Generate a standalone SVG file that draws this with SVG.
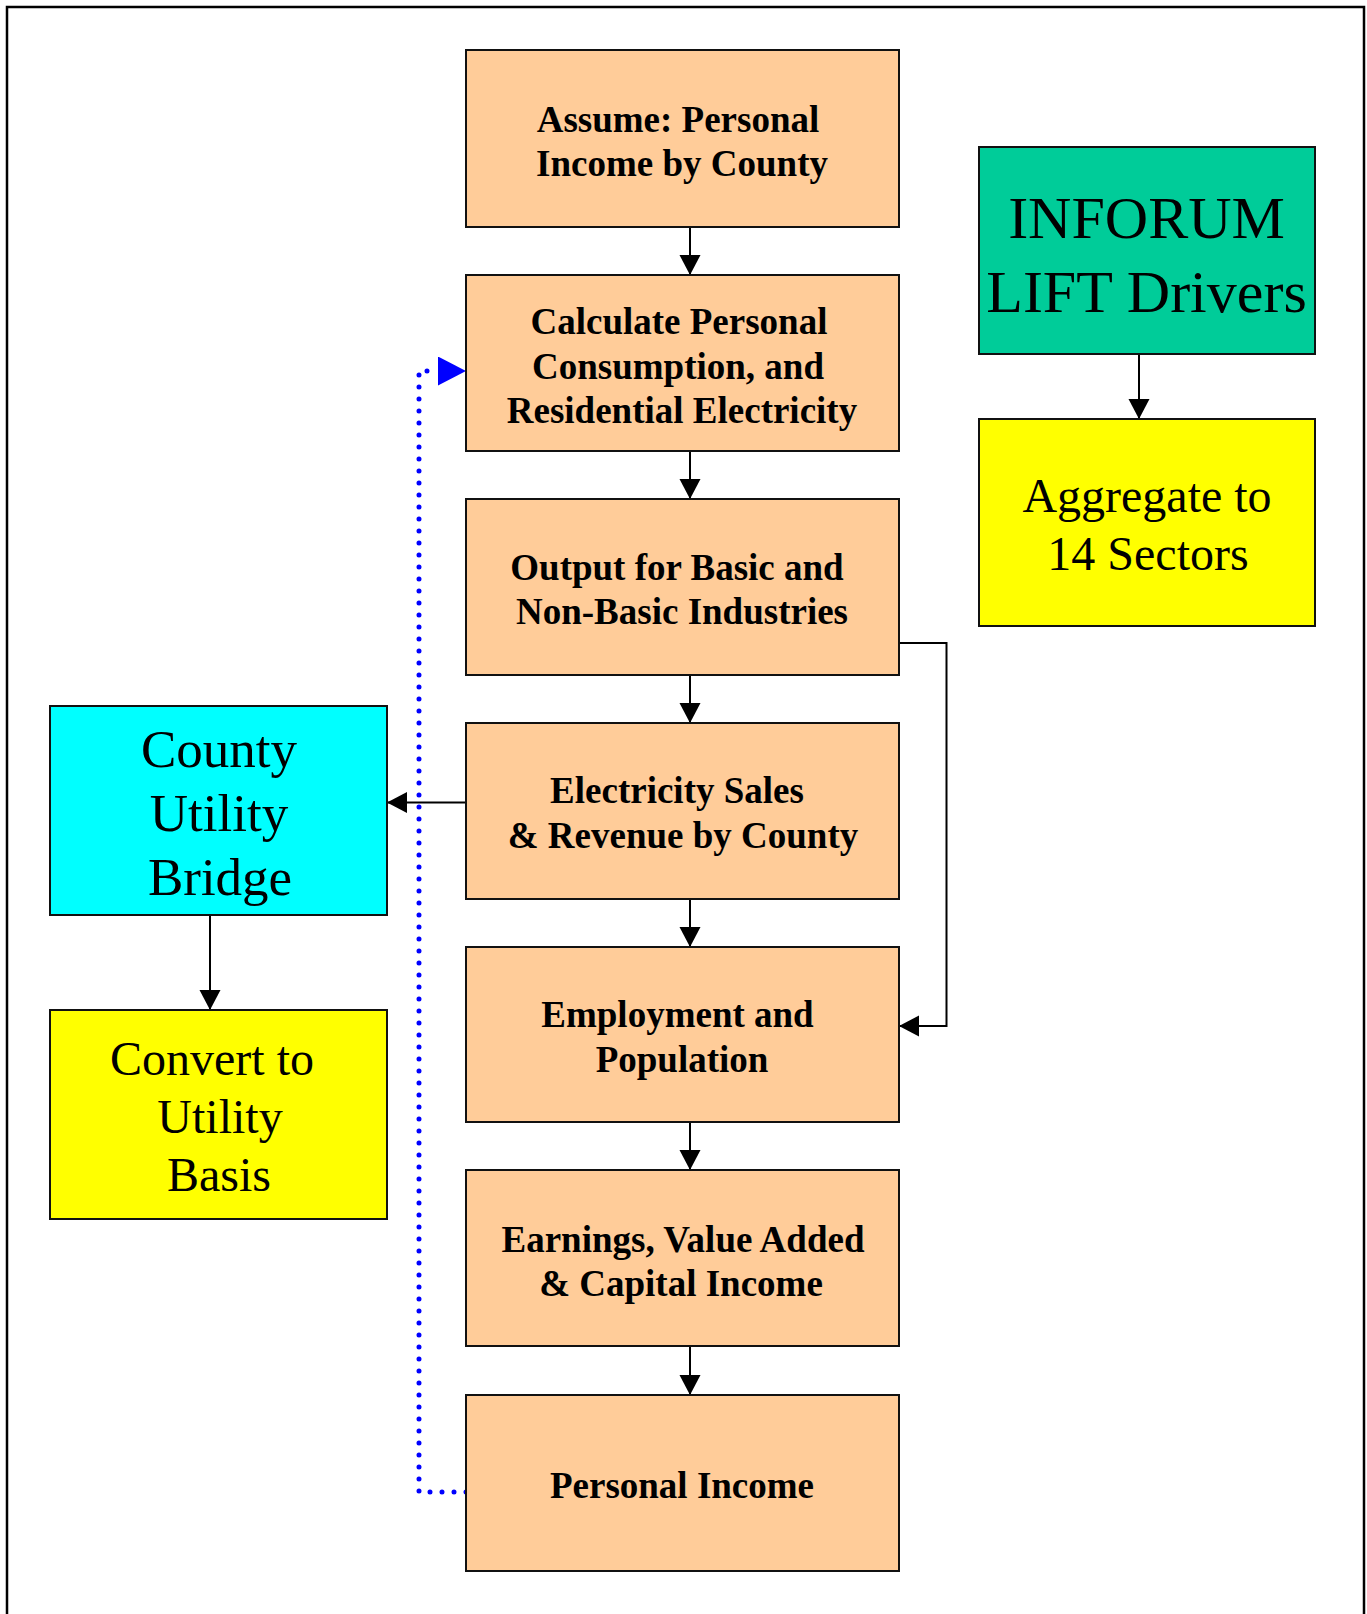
<svg xmlns="http://www.w3.org/2000/svg" width="1367" height="1614" viewBox="0 0 1367 1614">
<defs>
<style>
.box{stroke:#111;stroke-width:2}
.orange{fill:#FFCC99}
.green{fill:#00CC99}
.cyan{fill:#00FFFF}
.yellow{fill:#FFFF00}
.bt{font-family:"Liberation Serif","Times New Roman",serif;font-weight:bold;font-size:37px;fill:#000;text-anchor:middle}
.rt{font-family:"Liberation Serif","Times New Roman",serif;font-weight:normal;fill:#000;text-anchor:middle}
.conn{fill:none;stroke:#000;stroke-width:2}
.dot{fill:none;stroke:#0000FF;stroke-width:5;stroke-linecap:round;stroke-dasharray:0 12}
</style>
<marker id="ah" markerUnits="userSpaceOnUse" markerWidth="21" markerHeight="22" refX="20" refY="10.5" orient="auto" viewBox="0 0 21 22">
<path d="M0,0 L20,10.5 L0,21 z" fill="#000"/>
</marker>
<marker id="bah" markerUnits="userSpaceOnUse" markerWidth="29" markerHeight="30" refX="0" refY="14.5" orient="auto" viewBox="0 0 29 30">
<path d="M0,0 L28,14.5 L0,29 z" fill="#0000FF"/>
</marker>
</defs>
<rect x="0" y="0" width="1367" height="1614" fill="#fff"/>
<rect x="7" y="7" width="1357" height="1640" fill="none" stroke="#000" stroke-width="2.5"/>

<g id="connectors">
<line class="conn" x1="690" y1="227" x2="690" y2="275" marker-end="url(#ah)"/>
<line class="conn" x1="690" y1="451" x2="690" y2="499" marker-end="url(#ah)"/>
<line class="conn" x1="690" y1="675" x2="690" y2="723" marker-end="url(#ah)"/>
<line class="conn" x1="690" y1="899" x2="690" y2="947" marker-end="url(#ah)"/>
<line class="conn" x1="690" y1="1122" x2="690" y2="1170" marker-end="url(#ah)"/>
<line class="conn" x1="690" y1="1346" x2="690" y2="1395" marker-end="url(#ah)"/>
<line class="conn" x1="1139" y1="354" x2="1139" y2="419" marker-end="url(#ah)"/>
<line class="conn" x1="466" y1="802.5" x2="387" y2="802.5" marker-end="url(#ah)"/>
<line class="conn" x1="210" y1="915" x2="210" y2="1010" marker-end="url(#ah)"/>
<polyline class="conn" points="899,643 946.5,643 946.5,1026 899,1026" marker-end="url(#ah)"/>
<polyline class="dot" points="466,1492 419,1492 419,371 438,371" marker-end="url(#bah)"/>
</g>

<g id="n1">
<rect class="box orange" x="466" y="50" width="433" height="177"/>
<text class="bt" x="678" y="132">Assume: Personal</text>
<text class="bt" x="682" y="176">Income by County</text>
</g>
<g id="n2">
<rect class="box orange" x="466" y="275" width="433" height="176"/>
<text class="bt" x="679" y="334">Calculate Personal</text>
<text class="bt" x="678" y="379">Consumption, and</text>
<text class="bt" x="682" y="423">Residential Electricity</text>
</g>
<g id="n3">
<rect class="box orange" x="466" y="499" width="433" height="176"/>
<text class="bt" x="677" y="580">Output for Basic and</text>
<text class="bt" x="682" y="624">Non-Basic Industries</text>
</g>
<g id="n4">
<rect class="box orange" x="466" y="723" width="433" height="176"/>
<text class="bt" x="677" y="803">Electricity Sales</text>
<text class="bt" x="683" y="848">&amp; Revenue by County</text>
</g>
<g id="n5">
<rect class="box orange" x="466" y="947" width="433" height="175"/>
<text class="bt" x="677.5" y="1027">Employment and</text>
<text class="bt" x="682" y="1072">Population</text>
</g>
<g id="n6">
<rect class="box orange" x="466" y="1170" width="433" height="176"/>
<text class="bt" x="683" y="1252">Earnings, Value Added</text>
<text class="bt" x="681" y="1296">&amp; Capital Income</text>
</g>
<g id="n7">
<rect class="box orange" x="466" y="1395" width="433" height="176"/>
<text class="bt" x="682" y="1498">Personal Income</text>
</g>
<g id="inforum">
<rect class="box green" x="979" y="147" width="336" height="207"/>
<text class="rt" x="1146.5" y="238" font-size="60">INFORUM</text>
<text class="rt" x="1146.5" y="312" font-size="60">LIFT Drivers</text>
</g>
<g id="aggregate">
<rect class="box yellow" x="979" y="419" width="336" height="207"/>
<text class="rt" x="1147" y="512" font-size="48">Aggregate to</text>
<text class="rt" x="1148" y="570" font-size="48">14 Sectors</text>
</g>
<g id="bridge">
<rect class="box cyan" x="50" y="706" width="337" height="209"/>
<text class="rt" x="219" y="767" font-size="53">County</text>
<text class="rt" x="219" y="831" font-size="53">Utility</text>
<text class="rt" x="220" y="895" font-size="53">Bridge</text>
</g>
<g id="convert">
<rect class="box yellow" x="50" y="1010" width="337" height="209"/>
<text class="rt" x="212" y="1075" font-size="48">Convert to</text>
<text class="rt" x="220" y="1133" font-size="48">Utility</text>
<text class="rt" x="219" y="1191" font-size="48">Basis</text>
</g>
</svg>
